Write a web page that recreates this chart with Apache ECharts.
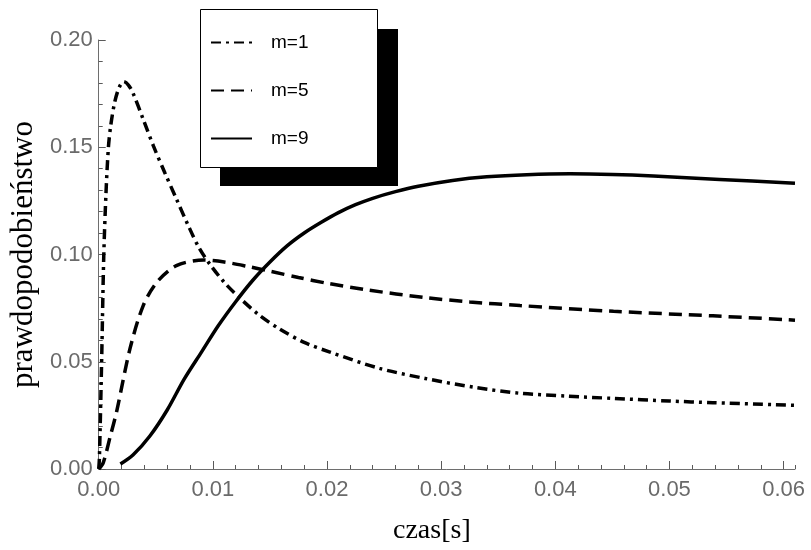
<!DOCTYPE html>
<html>
<head>
<meta charset="utf-8">
<script src="https://cdn.jsdelivr.net/npm/echarts@6/dist/echarts.min.js"></script>
<style>
html, body { margin: 0; padding: 0; background: #fff; }
#chart { width: 811px; height: 550px; }
</style>
</head>
<body>
<div id="chart"></div>
<script>
const timeM1 = [0, 0.00006, 0.00026, 0.00044, 0.00064, 0.00085, 0.00105, 0.0014, 0.0018, 0.0022, 0.0026, 0.0030, 0.0039, 0.0048, 0.0058, 0.0068, 0.0078, 0.0088, 0.0098, 0.011, 0.0123, 0.014, 0.0158, 0.018, 0.0202, 0.0246, 0.0286, 0.033, 0.0369, 0.041, 0.0451, 0.05, 0.0538, 0.061];
const probM1 = [0, 0.005, 0.0515, 0.099, 0.129, 0.150, 0.160, 0.171, 0.178, 0.1806, 0.179, 0.1753, 0.163, 0.1505, 0.138, 0.126, 0.114, 0.103, 0.095, 0.087, 0.080, 0.072, 0.0654, 0.059, 0.0546, 0.0469, 0.0422, 0.038, 0.0353, 0.034, 0.0329, 0.0317, 0.0309, 0.0297];

const timeM5 = [0, 0.0004, 0.001, 0.00157, 0.00274, 0.0039, 0.0051, 0.0068, 0.0092, 0.011, 0.013, 0.015, 0.0175, 0.020, 0.0235, 0.0286, 0.0325, 0.0369, 0.0451, 0.0538, 0.061];
const probM5 = [0, 0.003, 0.015, 0.0268, 0.0561, 0.0762, 0.0871, 0.0948, 0.0974, 0.0965, 0.0945, 0.0922, 0.0893, 0.0866, 0.0835, 0.0799, 0.0779, 0.0762, 0.0735, 0.0714, 0.0694];

const timeM9 = [0.0019, 0.003, 0.0045, 0.006, 0.0075, 0.009, 0.0105, 0.012, 0.0135, 0.015, 0.0165, 0.018, 0.0195, 0.021, 0.0225, 0.024, 0.026, 0.028, 0.031, 0.034, 0.0375, 0.0413, 0.045, 0.0486, 0.0544, 0.061];
const probM9 = [0.0023, 0.0065, 0.0155, 0.0275, 0.042, 0.0545, 0.067, 0.078, 0.088, 0.0965, 0.104, 0.110, 0.115, 0.1195, 0.1232, 0.1262, 0.1293, 0.1318, 0.1345, 0.1362, 0.1372, 0.1376, 0.1373, 0.1366, 0.135, 0.1332];

const xMajorStep = 0.01;
const xMinorStep = 0.002;

const seriesNames = ['m=1', 'm=5', 'm=9'];

function pairs(xs, ys) {
    return xs.map((x, i) => [x, ys[i]]);
}

const axisGray = '#6e6e6e';
const tickColor = '#5a5a5a';
const labelGray = '#6a6a6a';

let myChart = echarts.init(document.getElementById('chart'));

var option = {
    animation: false,
    grid: {
        left: 97,
        right: 16,
        top: 40,
        bottom: 79
    },
    legend: {
        orient: 'vertical',
        left: 210,
        top: 33,
        padding: 0,
        z: 20,
        itemWidth: 41,
        itemHeight: 14,
        itemGap: 29,
        data: seriesNames,
        lineStyle: { width: 2 },
        itemStyle: { opacity: 0 },
        textStyle: {
            fontFamily: 'Liberation Sans',
            fontSize: 19,
            color: '#000',
            padding: [0, 0, 0, 14]
        }
    },
    graphic: [
        {
            type: 'rect',
            z: 10,
            shape: { x: 220, y: 29, width: 178, height: 157 },
            style: { fill: '#000' }
        },
        {
            type: 'rect',
            z: 11,
            shape: { x: 200.5, y: 9.5, width: 177, height: 158 },
            style: { fill: '#fff', stroke: '#000', lineWidth: 1 }
        }
    ],
    xAxis: [
        {
            type: 'value',
            min: 0,
            max: 0.061,
            interval: xMajorStep,
            name: 'czas[s]',
            nameLocation: 'middle',
            nameGap: 48,
            nameTextStyle: {
                fontFamily: 'Liberation Serif',
                fontSize: 28,
                color: '#000',
                padding: [0, 30, 0, 0]
            },
            axisLine: { onZero: false, lineStyle: { color: axisGray, width: 1 } },
            axisTick: { show: true, inside: true, length: 8, lineStyle: { color: tickColor, width: 1 } },
            axisLabel: {
                showMaxLabel: false,
                margin: 10,
                fontFamily: 'Liberation Sans',
                fontSize: 22,
                color: labelGray,
                formatter: v => v.toFixed(2)
            },
            splitLine: { show: false }
        },
        {
            type: 'value',
            min: 0,
            max: 0.061,
            interval: xMinorStep,
            position: 'bottom',
            axisLine: { show: false, onZero: false },
            axisTick: { show: true, inside: true, length: 4, lineStyle: { color: tickColor, width: 1 } },
            axisLabel: { show: false },
            splitLine: { show: false }
        }
    ],
    yAxis: {
        type: 'value',
        min: 0,
        max: 0.2,
        interval: 0.05,
        name: 'prawdopodobieństwo',
        nameLocation: 'middle',
        nameRotate: 90,
        nameGap: 54,
        nameTextStyle: {
            fontFamily: 'Liberation Serif',
            fontSize: 31,
            color: '#000'
        },
        axisLine: { show: true, onZero: false, lineStyle: { color: axisGray, width: 1 } },
        axisTick: { show: true, inside: true, length: 7, lineStyle: { color: tickColor, width: 1 } },
        minorTick: { show: true, splitNumber: 5, length: 4, lineStyle: { color: tickColor, width: 1 } },
        axisLabel: {
            margin: 6,
            fontFamily: 'Liberation Sans',
            fontSize: 22,
            color: labelGray,
            formatter: v => v.toFixed(2)
        },
        splitLine: { show: false }
    },
    series: [
        {
            name: seriesNames[0],
            type: 'line',
            xAxisIndex: 0,
            data: pairs(timeM1, probM1),
            symbol: 'none',
            smooth: 0.3,
            lineStyle: { color: '#000', width: 3.5, type: [10, 5, 3, 5], cap: 'butt' },
            itemStyle: { color: '#000' }
        },
        {
            name: seriesNames[1],
            type: 'line',
            xAxisIndex: 0,
            data: pairs(timeM5, probM5),
            symbol: 'none',
            smooth: 0.3,
            lineStyle: { color: '#000', width: 3.5, type: [13, 7], cap: 'butt' },
            itemStyle: { color: '#000' }
        },
        {
            name: seriesNames[2],
            type: 'line',
            xAxisIndex: 0,
            data: pairs(timeM9, probM9),
            symbol: 'none',
            smooth: 0.3,
            lineStyle: { color: '#000', width: 3.5 },
            itemStyle: { color: '#000' }
        }
    ]
};

myChart.setOption(option);

window.addEventListener('resize', () => {
    myChart.resize();
});
</script>
</body>
</html>
